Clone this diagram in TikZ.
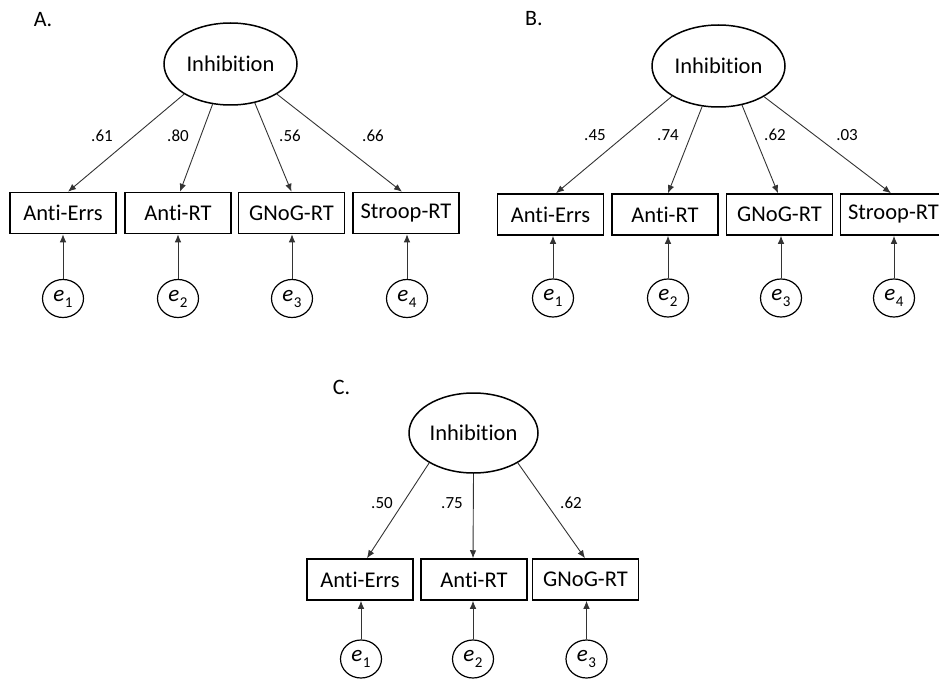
\documentclass[tikz,border=0pt]{standalone}
\usepackage{fontspec}
\setmainfont{Carlito}[Ligatures={NoCommon,NoRare,NoContextual}]
\usetikzlibrary{arrows.meta,shapes.geometric}
\newcommand\errlab[1]{\textit{e}\kern0.5pt\raisebox{-6pt}{\fontsize{15}{15}\selectfont #1}}
\begin{document}
\begin{tikzpicture}[x=1pt,y=-1pt,
  lat/.style={ellipse,draw,line width=1.5pt,minimum width=133pt,minimum height=82pt,inner sep=0pt,font=\fontsize{22.5}{24}\selectfont},
  obs/.style={draw,line width=1.5pt,minimum width=106pt,minimum height=41pt,inner sep=0pt,font=\fontsize{22.5}{24}\selectfont},
  err/.style={ellipse,draw,line width=1.2pt,minimum width=41pt,minimum height=38pt,inner sep=0pt,font=\fontsize{23}{24}\selectfont},
  load/.style={font=\fontsize{17}{18}\selectfont},
  panel/.style={font=\fontsize{22}{24}\selectfont},
  arr/.style={-{Latex[length=8pt,width=6.5pt]},line width=0.9pt,draw=black!80}]
\useasboundingbox (0,0) rectangle (939,679);

% ---------- Panel A ----------
\node[panel] (labA) at (43,20) {A.};
\node[lat] (inhA) at (230.5,64) {Inhibition};
\node[obs] (a1) at (63,213) {Anti-Errs};
\node[obs] (a2) at (178,213) {Anti-RT};
\node[obs] (a3) at (291.5,213) {GNoG-RT};
\node[obs] (a4) at (406,213) {Stroop-RT};
\node[err] (ea1) at (63,298.5) {\errlab{1}};
\node[err] (ea2) at (178,298.5) {\errlab{2}};
\node[err] (ea3) at (292,298.5) {\errlab{3}};
\node[err] (ea4) at (407,298.5) {\errlab{4}};
\draw[arr] (inhA.213) -- ([xshift=5pt]a1.north);
\draw[arr] (inhA.246) -- ([xshift=2pt]a2.north);
\draw[arr] (inhA.302) -- ([xshift=0pt]a3.north);
\draw[arr] (inhA.327) -- ([xshift=-4pt]a4.north);
\foreach \i in {1,2,3,4}{\draw[arr] (ea\i.north) -- (ea\i.north |- a\i.south);}
\node[load] (lA1) at (102,136) {.61};
\node[load] (lA2) at (178,136) {.80};
\node[load] (lA3) at (290,136) {.56};
\node[load] (lA4) at (373,136) {.66};

% ---------- Panel B ----------
\node[panel] (labB) at (534,18.5) {B.};
\node[lat] (inhB) at (718.5,66) {Inhibition};
\node[obs] (b1) at (550.5,214.5) {Anti-Errs};
\node[obs] (b2) at (665,214.5) {Anti-RT};
\node[obs] (b3) at (779.5,214.5) {GNoG-RT};
\node[obs] (b4) at (893.5,214.5) {Stroop-RT};
\node[err] (eb1) at (553,298) {\errlab{1}};
\node[err] (eb2) at (668,298) {\errlab{2}};
\node[err] (eb3) at (781,298) {\errlab{3}};
\node[err] (eb4) at (894,298) {\errlab{4}};
\draw[arr] (inhB.213) -- ([xshift=5.5pt]b1.north);
\draw[arr] (inhB.248) -- ([xshift=3pt]b2.north);
\draw[arr] (inhB.301) -- ([xshift=-1.5pt]b3.north);
\draw[arr] (inhB.326) -- ([xshift=-2.5pt]b4.north);
\foreach \i in {1,2,3,4}{\draw[arr] (eb\i.north) -- (eb\i.north |- b\i.south);}
\node[load] (lB1) at (595,135) {.45};
\node[load] (lB2) at (668,135) {.74};
\node[load] (lB3) at (775,135) {.62};
\node[load] (lB4) at (847,135) {.03};

% ---------- Panel C ----------
\node[panel] (labC) at (341.5,387) {C.};
\node[lat,minimum width=129pt,minimum height=80pt] (inhC) at (473.5,433) {Inhibition};
\node[obs] (c1) at (360,579.5) {Anti-Errs};
\node[obs] (c2) at (474,579.5) {Anti-RT};
\node[obs] (c3) at (585.5,579.5) {GNoG-RT};
\node[err] (ec1) at (361,659) {\errlab{1}};
\node[err] (ec2) at (473,659) {\errlab{2}};
\node[err] (ec3) at (586.5,659) {\errlab{3}};
\draw[arr] (inhC.214) -- ([xshift=7pt]c1.north);
\draw[arr] (inhC.270) -- ([xshift=-1pt]c2.north);
\draw[arr] (inhC.326) -- ([xshift=-0.5pt]c3.north);
\foreach \i in {1,2,3}{\draw[arr] (ec\i.north) -- (ec\i.north |- c\i.south);}
\node[load] (lC1) at (382,503) {.50};
\node[load] (lC2) at (452,503) {.75};
\node[load] (lC3) at (571,503) {.62};
\end{tikzpicture}
\end{document}
